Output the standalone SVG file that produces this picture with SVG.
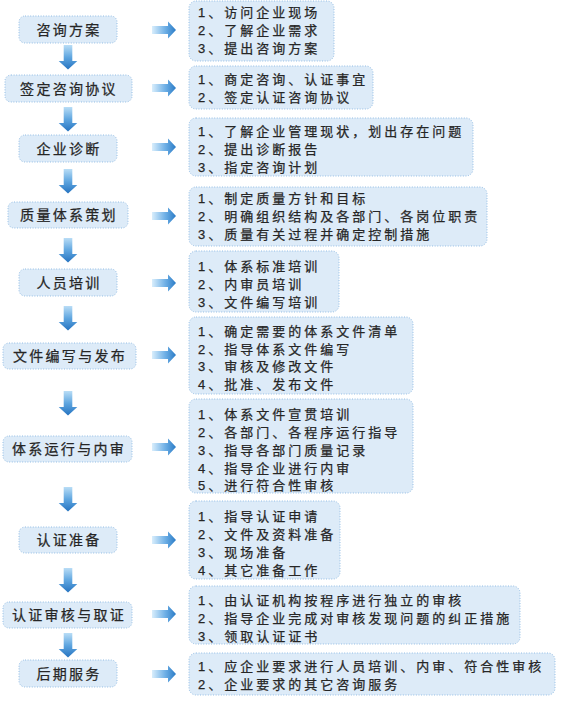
<svg xmlns="http://www.w3.org/2000/svg" xmlns:xlink="http://www.w3.org/1999/xlink" width="578" height="709" viewBox="0 0 578 709">
<style>
.box{fill:#ddebf8;stroke:#93bde4;stroke-width:1;stroke-dasharray:1 1.6}
.lt{font-family:"Liberation Sans","Noto Sans CJK SC",sans-serif;font-size:14px;letter-spacing:2.3px;fill:#262626;stroke:#262626;stroke-width:0.25;text-anchor:middle}
.rt{font-family:"Liberation Sans","Noto Sans CJK SC",sans-serif;font-size:13px;letter-spacing:3px;fill:#262626;stroke:#262626;stroke-width:0.25}
</style>
<defs>
<linearGradient id="gr" x1="0" y1="0" x2="1" y2="0">
<stop offset="0" stop-color="#d9eefc"/>
<stop offset="0.55" stop-color="#6fb0e6"/>
<stop offset="1" stop-color="#2a7bc6"/>
</linearGradient>
<linearGradient id="gd" x1="0" y1="0" x2="0" y2="1">
<stop offset="0" stop-color="#b9ddf6"/>
<stop offset="0.5" stop-color="#5fa6e0"/>
<stop offset="1" stop-color="#2573c0"/>
</linearGradient>
<path id="ar" d="M0,-4 H16 V-8.5 L24,0 L16,8.5 V4 H0 Z" fill="url(#gr)"/>
<path id="ad" d="M-4.3,0 H4.3 V16 H9.3 L0,24.5 L-9.3,16 H-4.3 Z" fill="url(#gd)"/>
</defs>
<rect width="578" height="709" fill="#ffffff"/>

<g id="connectors">
<use href="#ad" x="68" y="45"/>
<use href="#ad" x="68" y="107"/>
<use href="#ad" x="68" y="169"/>
<use href="#ad" x="68" y="238"/>
<use href="#ad" x="68" y="306"/>
<use href="#ad" x="68" y="391"/>
<use href="#ad" x="68" y="487"/>
<use href="#ad" x="68" y="568"/>
<use href="#ad" x="68" y="633"/>
<use href="#ar" x="152" y="30"/>
<use href="#ar" x="152" y="88"/>
<use href="#ar" x="152" y="147"/>
<use href="#ar" x="152" y="216"/>
<use href="#ar" x="152" y="283"/>
<use href="#ar" x="152" y="355"/>
<use href="#ar" x="152" y="447"/>
<use href="#ar" x="152" y="540"/>
<use href="#ar" x="152" y="614"/>
<use href="#ar" x="152" y="674"/>
</g>

<g id="n1"><rect class="box" x="19" y="16" width="98" height="27" rx="6"/><text class="lt" x="69" y="35">咨询方案</text></g>
<g id="n2"><rect class="box" x="5" y="75" width="127" height="27" rx="6"/><text class="lt" x="69" y="94">签定咨询协议</text></g>
<g id="n3"><rect class="box" x="19" y="135" width="98" height="27" rx="6"/><text class="lt" x="69" y="154">企业诊断</text></g>
<g id="n4"><rect class="box" x="8" y="202" width="120" height="26" rx="6"/><text class="lt" x="69" y="220">质量体系策划</text></g>
<g id="n5"><rect class="box" x="19" y="269" width="98" height="27" rx="6"/><text class="lt" x="69" y="288">人员培训</text></g>
<g id="n6"><rect class="box" x="3" y="343" width="133" height="26" rx="6"/><text class="lt" x="70" y="361">文件编写与发布</text></g>
<g id="n7"><rect class="box" x="3" y="436" width="129" height="26" rx="6"/><text class="lt" x="69" y="454">体系运行与内审</text></g>
<g id="n8"><rect class="box" x="19" y="527" width="98" height="26" rx="6"/><text class="lt" x="69" y="545">认证准备</text></g>
<g id="n9"><rect class="box" x="3" y="602" width="129" height="26" rx="6"/><text class="lt" x="69" y="620">认证审核与取证</text></g>
<g id="n10"><rect class="box" x="19" y="660" width="98" height="27" rx="6"/><text class="lt" x="69" y="679">后期服务</text></g>

<g id="r1"><rect class="box" x="189" y="1" width="145" height="60" rx="7"/>
<text class="rt" x="198" y="17">1、访问企业现场</text>
<text class="rt" x="198" y="35">2、了解企业需求</text>
<text class="rt" x="198" y="53">3、提出咨询方案</text></g>
<g id="r2"><rect class="box" x="189" y="66" width="184" height="43" rx="7"/>
<text class="rt" x="198" y="84">1、商定咨询、认证事宜</text>
<text class="rt" x="198" y="102">2、签定认证咨询协议</text></g>
<g id="r3"><rect class="box" x="189" y="118" width="284" height="58" rx="7"/>
<text class="rt" x="198" y="136">1、了解企业管理现状，划出存在问题</text>
<text class="rt" x="198" y="154">2、提出诊断报告</text>
<text class="rt" x="198" y="172">3、指定咨询计划</text></g>
<g id="r4"><rect class="box" x="189" y="187" width="298" height="59" rx="7"/>
<text class="rt" x="198" y="203">1、制定质量方针和目标</text>
<text class="rt" x="198" y="221">2、明确组织结构及各部门、各岗位职责</text>
<text class="rt" x="198" y="239">3、质量有关过程并确定控制措施</text></g>
<g id="r5"><rect class="box" x="189" y="251" width="150" height="61" rx="7"/>
<text class="rt" x="198" y="271">1、体系标准培训</text>
<text class="rt" x="198" y="289">2、内审员培训</text>
<text class="rt" x="198" y="307">3、文件编写培训</text></g>
<g id="r6"><rect class="box" x="189" y="317" width="224" height="77" rx="7"/>
<text class="rt" x="198" y="336">1、确定需要的体系文件清单</text>
<text class="rt" x="198" y="354">2、指导体系文件编写</text>
<text class="rt" x="198" y="371">3、审核及修改文件</text>
<text class="rt" x="198" y="389">4、批准、发布文件</text></g>
<g id="r7"><rect class="box" x="189" y="399" width="224" height="94" rx="7"/>
<text class="rt" x="198" y="419">1、体系文件宣贯培训</text>
<text class="rt" x="198" y="437">2、各部门、各程序运行指导</text>
<text class="rt" x="198" y="455">3、指导各部门质量记录</text>
<text class="rt" x="198" y="473">4、指导企业进行内审</text>
<text class="rt" x="198" y="490">5、进行符合性审核</text></g>
<g id="r8"><rect class="box" x="189" y="501" width="151" height="78" rx="7"/>
<text class="rt" x="198" y="521">1、指导认证申请</text>
<text class="rt" x="198" y="539">2、文件及资料准备</text>
<text class="rt" x="198" y="557">3、现场准备</text>
<text class="rt" x="198" y="575">4、其它准备工作</text></g>
<g id="r9"><rect class="box" x="189" y="586" width="331" height="58" rx="7"/>
<text class="rt" x="198" y="605">1、由认证机构按程序进行独立的审核</text>
<text class="rt" x="198" y="623">2、指导企业完成对审核发现问题的纠正措施</text>
<text class="rt" x="198" y="641">3、领取认证证书</text></g>
<g id="r10"><rect class="box" x="189" y="653" width="366" height="42" rx="7"/>
<text class="rt" x="198" y="671">1、应企业要求进行人员培训、内审、符合性审核</text>
<text class="rt" x="198" y="689">2、企业要求的其它咨询服务</text></g>
</svg>
